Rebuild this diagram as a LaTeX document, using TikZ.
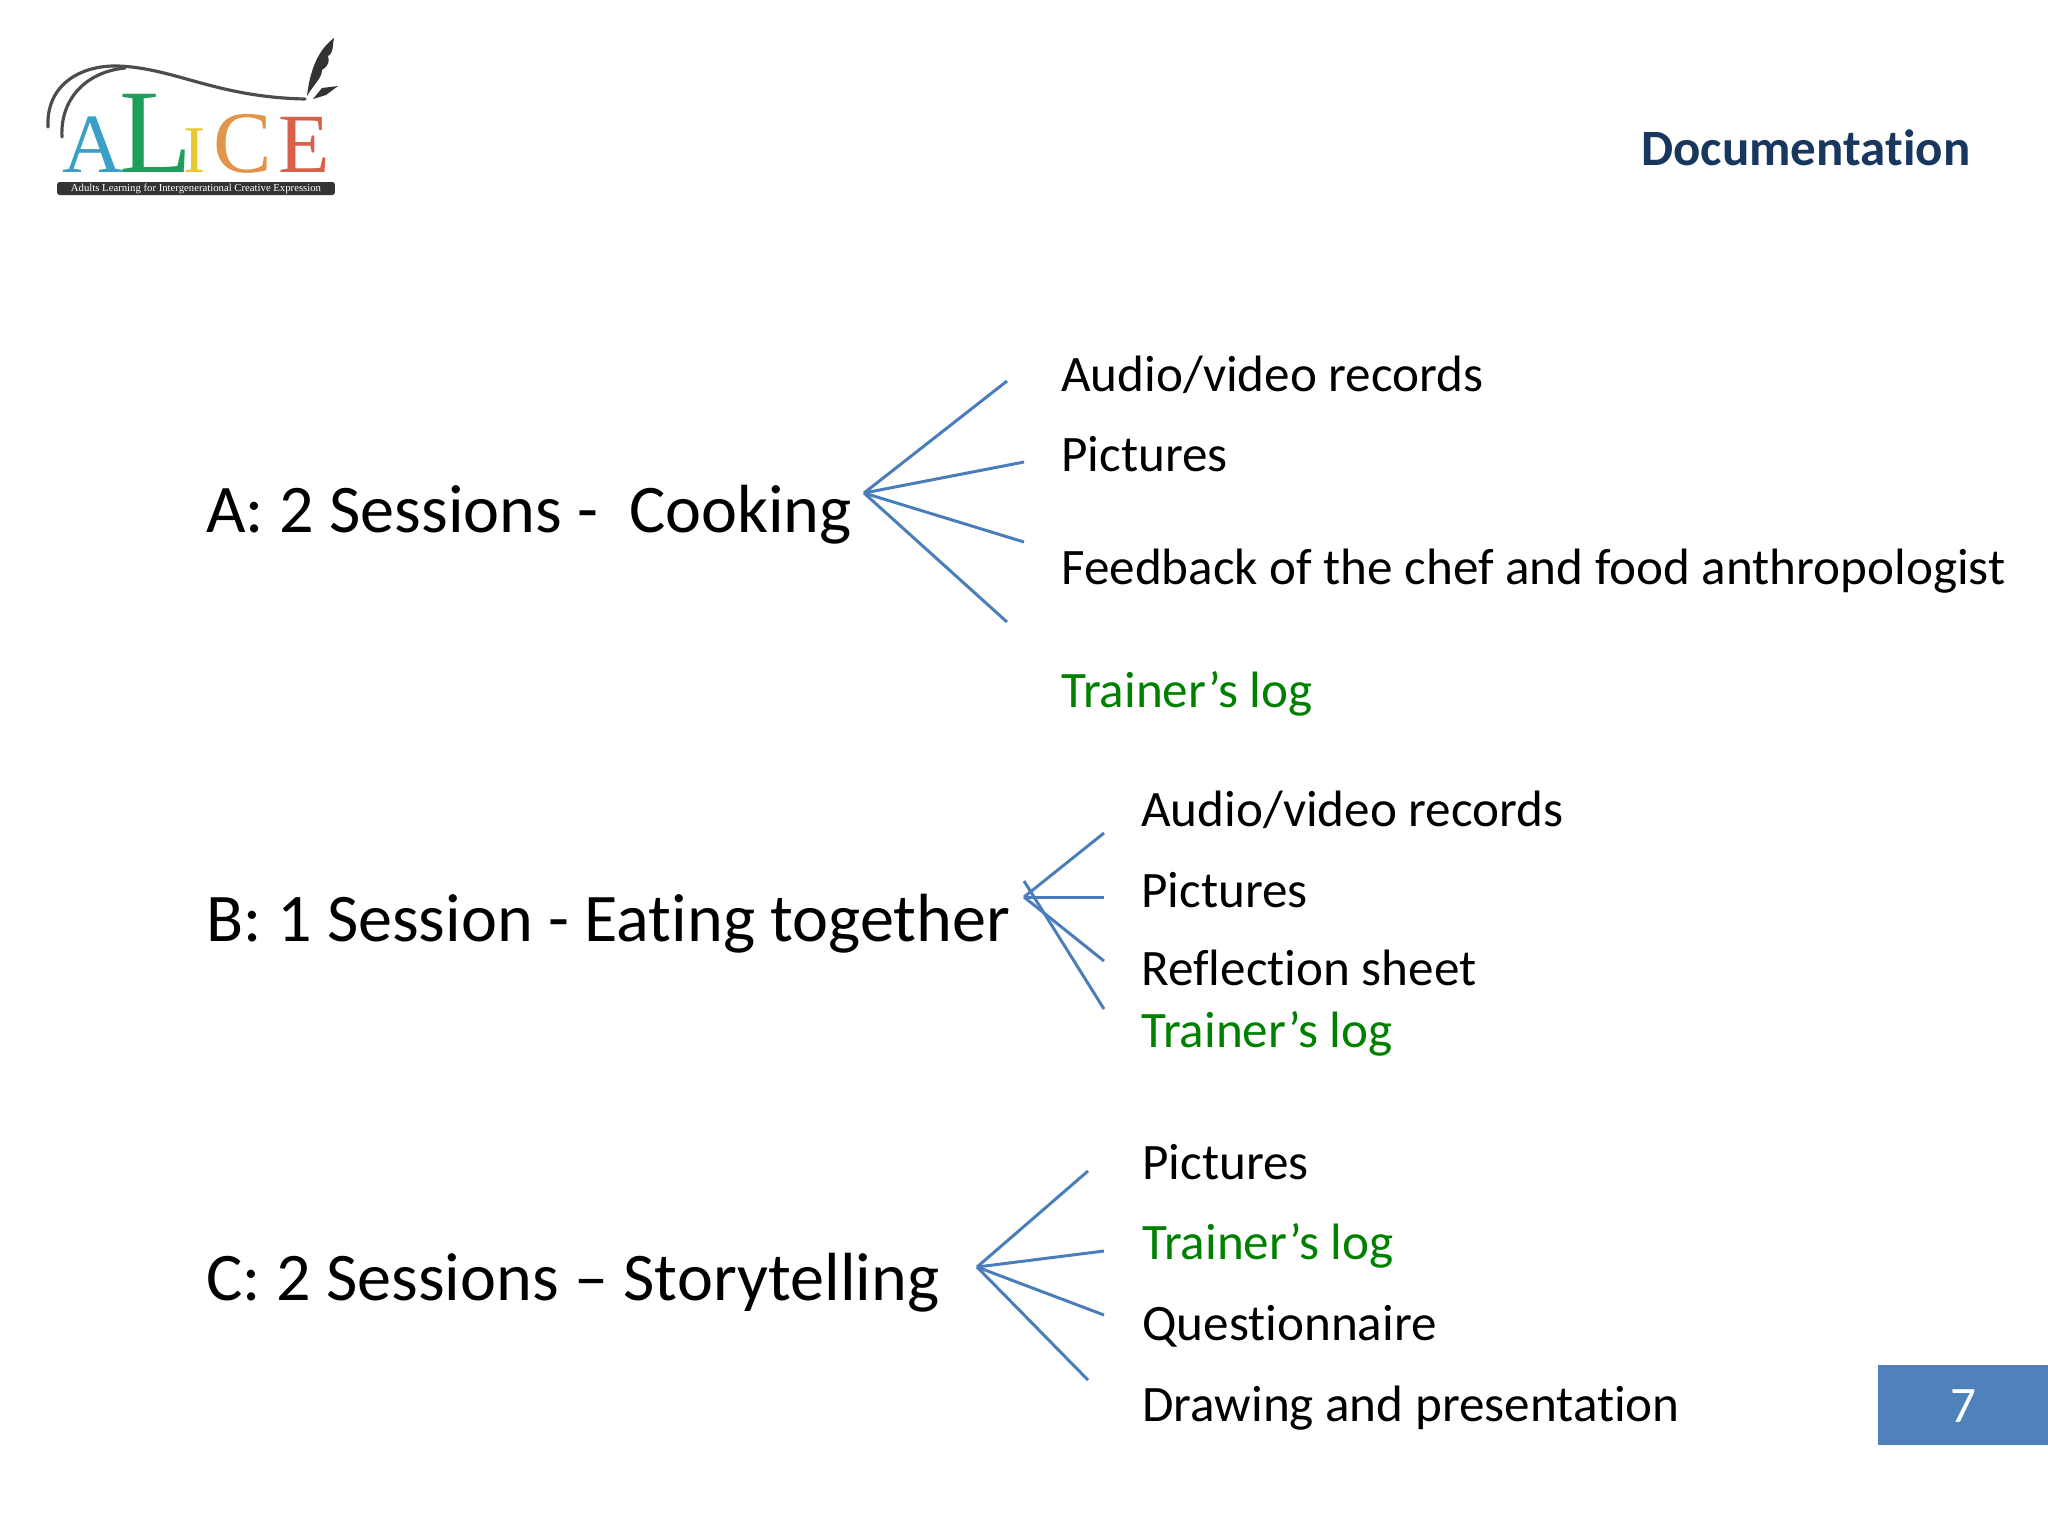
\documentclass[tikz,border=0pt]{standalone}
\usepackage{fontspec}
\setmainfont{Carlito}[Ligatures={NoCommon,TeX}]
\newfontfamily\logofont{Liberation Serif}
\definecolor{branchblue}{HTML}{4A7EBB}
\definecolor{logcolor}{HTML}{008000}
\definecolor{titlecolor}{HTML}{17375E}
\definecolor{pagecolor}{HTML}{4F81BD}
\definecolor{logoblue}{HTML}{3AA0C8}
\definecolor{logogreen}{HTML}{1E9E5A}
\definecolor{logoyellow}{HTML}{E8C830}
\definecolor{logoorange}{HTML}{E0954A}
\definecolor{logored}{HTML}{D9604A}
\tikzset{
	session/.style={anchor=base west, inner sep=0pt, font=\fontsize{38.8}{44}\selectfont},
	item/.style={anchor=base west, inner sep=0pt, font=\fontsize{29.1}{34}\selectfont},
	logitem/.style={item, text=logcolor},
	branch/.style={draw=branchblue, line width=1.7pt},
	logoletter/.style={anchor=base, inner sep=0pt},
	swoosh/.style={draw=black!70, line width=1.8pt, line cap=round}
}
\begin{document}
\begin{tikzpicture}[x=0.02cm, y=-0.02cm]
	\useasboundingbox (0,0) rectangle (2048,1536);
	% logo
	\draw[swoosh] (48,127) .. controls (46,85) and (80,65) .. (118,66) .. controls (175,68) and (215,97) .. (305,99);
	\draw[swoosh] (62,137) .. controls (60,100) and (85,72) .. (125,68);
	\fill[black!80] (307,96) .. controls (310,70) and (318,50) .. (334,38) .. controls (332,48) and (334,52) .. (328,56) .. controls (330,62) and (328,66) .. (322,70) .. controls (322,78) and (314,84) .. (307,96) -- cycle;
	\fill[black!80] (313,99) -- (322,88) -- (338,86) -- (326,95) -- cycle;
	\node[logoletter, text=logoblue, font=\logofont\fontsize{48}{48}\selectfont] (logoA) at (93,172) {A};
	\node[logoletter, text=logogreen, font=\logofont\fontsize{68}{68}\selectfont] (logoL) at (156,172) {L};
	\node[logoletter, text=logoyellow, font=\logofont\fontsize{38}{38}\selectfont] (logoI) at (195,172) {I};
	\node[logoletter, text=logoorange, font=\logofont\fontsize{50}{50}\selectfont] (logoC) at (243,172) {C};
	\node[logoletter, text=logored, font=\logofont\fontsize{48}{48}\selectfont] (logoE) at (304,172) {E};
	\node[fill=black!80, text=white, rounded corners=1.5pt, minimum width=5.56cm, minimum height=0.26cm, inner sep=0pt, font=\logofont\fontsize{6.1}{7}\selectfont] (logobar) at (196,188.5) {Adults Learning for Intergenerational Creative Expression};
	% title and page number
	\node[anchor=base west, inner sep=0pt, text=titlecolor, font=\bfseries\fontsize{29}{34}\selectfont] (title) at (1641,165) {Documentation};
	\node[fill=pagecolor, inner sep=0pt, minimum width=3.4cm, minimum height=1.6cm, anchor=north east] (pagebox) at (2048,1365) {};
	\node[inner sep=0pt, text=white, font=\fontsize{29.1}{34}\selectfont] (pagenum) at (1963,1406) {7};
	% A
	\node[session] (A) at (206,532) {A: 2 Sessions -\ \ Cooking};
	\node[item] (A1) at (1061,391) {Audio/video records};
	\node[item] (A2) at (1061,471) {Pictures};
	\node[item] (A3) at (1061,584) {Feedback of the chef and food anthropologist};
	\node[logitem] (A4) at (1061,707) {Trainer’s log};
	\coordinate (Ahub) at (864,493);
	\coordinate (Aend1) at (1007,381);
	\coordinate (Aend2) at (1024,462);
	\coordinate (Aend3) at (1024,542);
	\coordinate (Aend4) at (1007,622);
	\draw[branch] (Ahub) -- (Aend1);
	\draw[branch] (Ahub) -- (Aend2);
	\draw[branch] (Ahub) -- (Aend3);
	\draw[branch] (Ahub) -- (Aend4);
	% B
	\node[session] (B) at (206,941) {B: 1 Session - Eating together};
	\node[item] (B1) at (1141,826) {Audio/video records};
	\node[item] (B2) at (1141,907) {Pictures};
	\node[item] (B3) at (1141,985) {Reflection sheet};
	\node[logitem] (B4) at (1141,1047) {Trainer’s log};
	\coordinate (Bhub) at (1024,897);
	\coordinate (Bstart) at (1024,881);
	\coordinate (Bend1) at (1104,833);
	\coordinate (Bend2) at (1104,897);
	\coordinate (Bend3) at (1104,961);
	\coordinate (Bend4) at (1104,1009);
	\draw[branch] (Bhub) -- (Bend1);
	\draw[branch] (Bhub) -- (Bend2);
	\draw[branch] (Bhub) -- (Bend3);
	\draw[branch] (Bstart) -- (Bend4);
	% C
	\node[session] (C) at (206,1300) {C: 2 Sessions – Storytelling};
	\node[item] (C1) at (1142,1179) {Pictures};
	\node[logitem] (C2) at (1142,1259) {Trainer’s log};
	\node[item] (C3) at (1142,1340) {Questionnaire};
	\node[item] (C4) at (1142,1421) {Drawing and presentation};
	\coordinate (Chub) at (977,1267);
	\coordinate (Cend1) at (1088,1171);
	\coordinate (Cend2) at (1104,1251);
	\coordinate (Cend3) at (1104,1315);
	\coordinate (Cend4) at (1088,1380);
	\draw[branch] (Chub) -- (Cend1);
	\draw[branch] (Chub) -- (Cend2);
	\draw[branch] (Chub) -- (Cend3);
	\draw[branch] (Chub) -- (Cend4);
\end{tikzpicture}
\end{document}
